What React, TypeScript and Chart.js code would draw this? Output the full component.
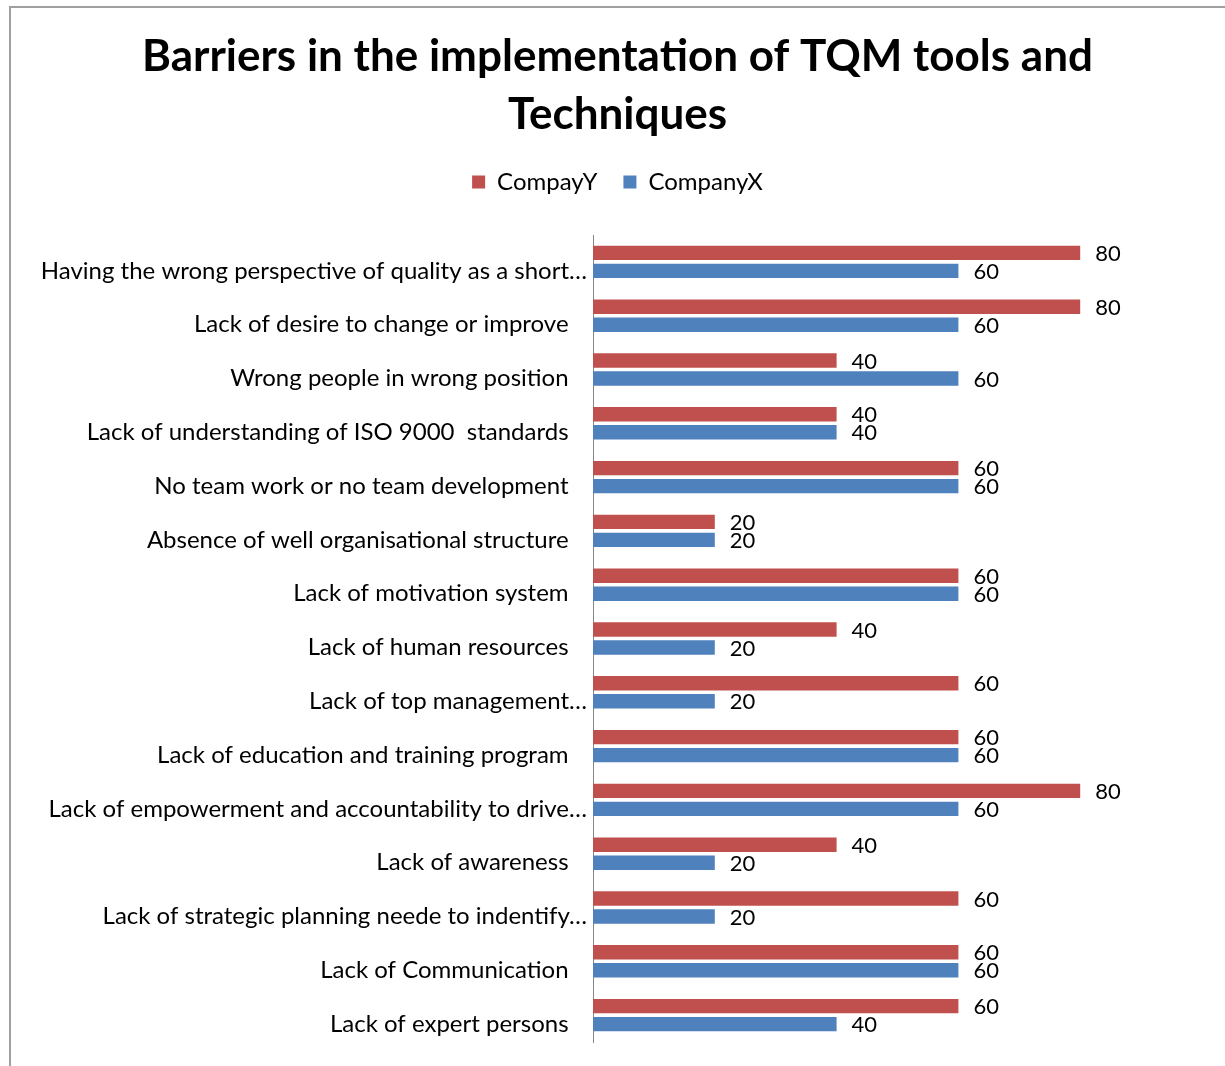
import React, { useEffect, useRef } from "react";
import { Chart, registerables } from "chart.js";

Chart.register(...registerables);

const categories = [
  "Having the wrong perspective of quality as a short…",
  "Lack of desire to change or improve",
  "Wrong people in wrong position",
  "Lack of understanding of ISO 9000  standards",
  "No team work or no team development",
  "Absence of well organisational structure",
  "Lack of motivation system",
  "Lack of human resources",
  "Lack of top management…",
  "Lack of education and training program",
  "Lack of empowerment and accountability to drive…",
  "Lack of awareness",
  "Lack of strategic planning neede to indentify…",
  "Lack of Communication",
  "Lack of expert persons",
];

const companyY = [80, 80, 40, 40, 60, 20, 60, 40, 60, 60, 80, 40, 60, 60, 60];
const companyX = [60, 60, 60, 40, 60, 20, 60, 20, 20, 60, 60, 20, 20, 60, 40];

const seriesNames = ["CompayY", "CompanyX"];
const titleLines = ["Barriers in the implementation of TQM tools and", "Techniques"];

const FONT = "Lato, 'Open Sans', sans-serif";

const framePlugin = {
  id: "frame",
  beforeDraw(chart: any) {
    const ctx = chart.ctx;
    ctx.save();
    ctx.fillStyle = "#ffffff";
    ctx.fillRect(0, 0, chart.width, chart.height);
    ctx.strokeStyle = "#a0a0a0";
    ctx.lineWidth = 2;
    ctx.strokeRect(10, 7, chart.width + 50, chart.height + 50);
    ctx.restore();
  },
};

const labelPlugin = {
  id: "valueLabels",
  afterDatasetsDraw(chart: any) {
    const ctx = chart.ctx;
    ctx.save();
    ctx.font = `22px ${FONT}`;
    ctx.fillStyle = "#000000";
    ctx.textAlign = "left";
    ctx.textBaseline = "middle";
    chart.data.datasets.forEach((ds: any, di: number) => {
      const meta = chart.getDatasetMeta(di);
      meta.data.forEach((bar: any, i: number) => {
        ctx.fillText(String(ds.data[i]), bar.x + 15, bar.y + 1);
      });
    });
    ctx.restore();
  },
};

export default function App() {
  const ref = useRef<HTMLCanvasElement | null>(null);

  useEffect(() => {
    document.body.style.margin = "0";
    document.body.style.overflow = "hidden";
    if (!ref.current) return;
    const chart = new Chart(ref.current, {
      type: "bar",
      data: {
        labels: categories,
        datasets: [
          {
            label: seriesNames[0],
            data: companyY,
            backgroundColor: "#C0504D",
            categoryPercentage: 0.67,
            barPercentage: 0.8,
          },
          {
            label: seriesNames[1],
            data: companyX,
            backgroundColor: "#4F81BD",
            categoryPercentage: 0.67,
            barPercentage: 0.8,
          },
        ],
      },
      options: {
        indexAxis: "y",
        animation: false,
        responsive: true,
        maintainAspectRatio: false,
        layout: { padding: { left: 33, right: 23, top: 0, bottom: 24 } },
        plugins: {
          title: {
            display: true,
            text: titleLines,
            color: "#000000",
            font: { family: FONT, size: 44, weight: "bold", lineHeight: "58px" },
            padding: { top: 28, bottom: 0 },
          },
          legend: {
            display: true,
            position: "top",
            labels: {
              color: "#000000",
              font: { family: FONT, size: 24 },
              boxWidth: 13,
              boxHeight: 13,
              padding: 26,
            },
          },
          tooltip: { enabled: false },
        },
        scales: {
          x: {
            position: "top",
            min: 0,
            max: 100,
            display: true,
            ticks: { display: false },
            grid: { display: false, drawTicks: false },
            border: { display: false },
            afterFit: (scale: any) => {
              scale.height = 31;
            },
          },
          y: {
            ticks: {
              autoSkip: false,
              color: "#000000",
              font: { family: FONT, size: 24 },
              padding: 6,
              labelOffset: 9,
              callback: function (this: any, value: any) {
                const lab = this.getLabelForValue(value) as string;
                return lab.endsWith("…") ? lab : lab + "   ";
              },
            },
            grid: { display: false, drawTicks: false },
            border: { display: true, color: "#868686", width: 1 },
            afterFit: (scale: any) => {
              scale.width = 560;
            },
          },
        },
      },
      plugins: [framePlugin, labelPlugin],
    });
    return () => chart.destroy();
  }, []);

  return (
    <div style={{ width: 1225, height: 1066, position: "relative" }}>
      <canvas ref={ref} />
    </div>
  );
}
